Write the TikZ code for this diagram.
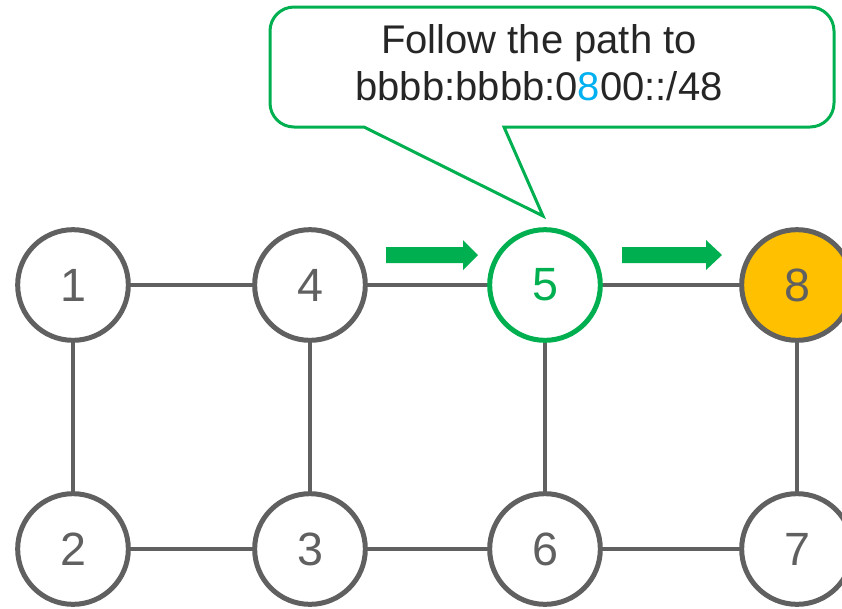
\documentclass[tikz,border=0pt]{standalone}
\usepackage{fontspec}
\setmainfont{Liberation Sans}
\definecolor{edgegray}{RGB}{96,96,96}
\definecolor{pathgreen}{RGB}{0,176,80}
\definecolor{destyellow}{RGB}{255,192,0}
\definecolor{hexblue}{RGB}{0,176,240}
\definecolor{labelgray}{RGB}{38,38,38}
\tikzset{every picture/.style={line width=0.75pt}}
\tikzset{
  router/.style={circle, draw=edgegray, line width=3.75pt, fill=white, minimum size=83pt, inner sep=0pt, text=edgegray, font=\fontsize{35}{35}\selectfont},
  link/.style={draw=edgegray, line width=3pt},
}

\begin{document}
\begin{tikzpicture}[x=0.75pt,y=0.75pt,yscale=-1,xscale=1]
\useasboundingbox (0,0) rectangle (842,608);
% Links
\coordinate (c1) at (73,285);
\coordinate (c4) at (310,285);
\coordinate (c5) at (545,285);
\coordinate (c8) at (797,285);
\coordinate (c2) at (73,549);
\coordinate (c3) at (310,549);
\coordinate (c6) at (545,549);
\coordinate (c7) at (797,549);
\draw[link] (c1) -- (c4) -- (c5) -- (c8) -- (c7) -- (c6) -- (c3) -- (c2) -- cycle;
\draw[link] (c4) -- (c3);
\draw[link] (c5) -- (c6);
% Router nodes
\node[router] (n1) at (c1) {1};
\node[router] (n4) at (c4) {4};
\node[router, draw=pathgreen, text=pathgreen] (n5) at (c5) {5};
\node[router, fill=destyellow] (n8) at (c8) {8};
\node[router] (n2) at (c2) {2};
\node[router] (n3) at (c3) {3};
\node[router] (n6) at (c6) {6};
\node[router] (n7) at (c7) {7};
% Forwarding arrows
\fill[pathgreen] (386,247) -- (463,247) -- (463,240) -- (478,255) -- (463,270) -- (463,263) -- (386,263) -- cycle;
\fill[pathgreen] (622,247) -- (706,247) -- (706,240) -- (722,255) -- (706,270) -- (706,263) -- (622,263) -- cycle;
% Callout
\draw[draw=pathgreen, line width=2.25pt, fill=white] (543,216) -- (504,127) [rounded corners=18] -- (834,127) -- (834,7) -- (270,7) -- (270,127) [sharp corners] -- (364,127) -- cycle;
% Text Node
\draw (539,24) node [anchor=north, inner sep=0pt, align=center, text=labelgray, font=\fontsize{30}{35}\selectfont] (note) {Follow the path to\\bbbb:bbbb:0\textcolor{hexblue}{8}00::/48};
\end{tikzpicture}
\end{document}
